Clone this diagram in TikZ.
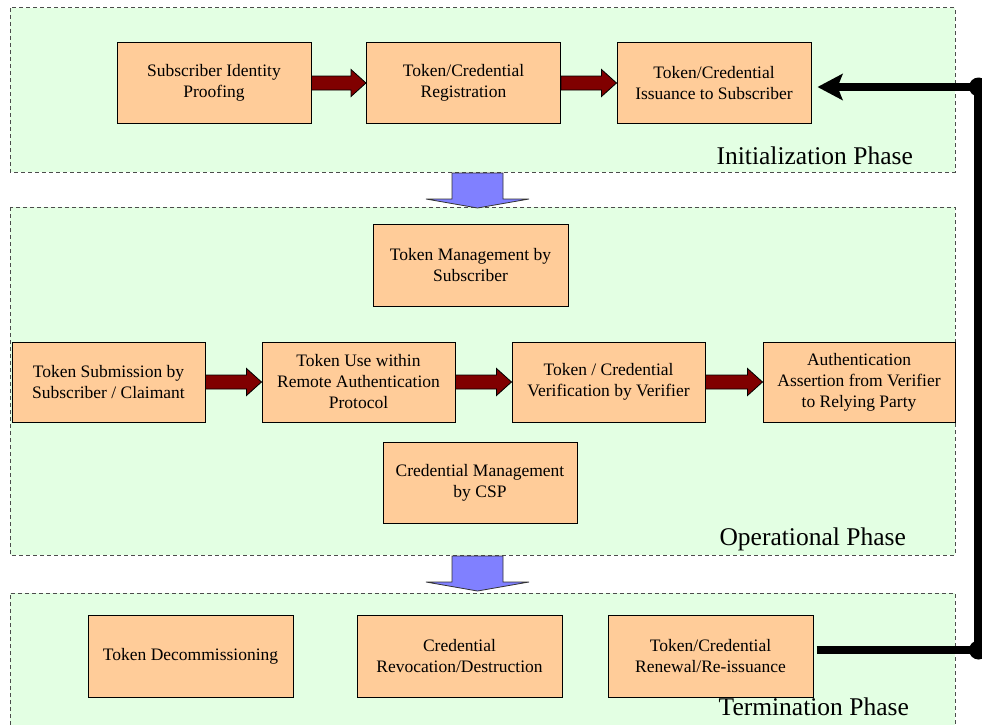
\documentclass[tikz,border=0pt]{standalone}
\usepackage{fontspec}
\setmainfont{Liberation Serif}
\usetikzlibrary{calc,arrows.meta}

\definecolor{boxfill}{RGB}{255,204,153}
\definecolor{phasefill}{RGB}{227,255,227}
\definecolor{redfill}{RGB}{128,0,0}
\definecolor{bluefill}{RGB}{128,128,255}

%% 粗箭头：从 #1 的右边到 #2 的左边
\newcommand{\fatarrow}[2]{%
  \filldraw[redblock] ($(#1.east)+(0,-7)$) -- ($(#2.west)+(-15,-7)$) -- ($(#2.west)+(-15,-13.5)$)
    -- (#2.west) -- ($(#2.west)+(-15,13.5)$) -- ($(#2.west)+(-15,7)$) -- ($(#1.east)+(0,7)$) -- cycle;}

%% 阶段之间向下的蓝箭头，#1 = 箭身上沿
\newcommand{\phasearrow}[1]{%
  \filldraw[blueblock] (452,#1) -- (503,#1) -- (503,{#1+26}) -- (529,{#1+26}) -- (477.5,{#1+35})
    -- (426,{#1+26}) -- (452,{#1+26}) -- cycle;}

\begin{document}
\begin{tikzpicture}[x=1pt, y=-1pt, line join=miter,
  box/.style={draw=black, line width=1pt, fill=boxfill, minimum width=194pt, minimum height=80pt,
    align=center, inner sep=2pt, font=\fontsize{17.5}{21}\selectfont},
  phase/.style={draw=gray!60!black, dash pattern=on 4pt off 3pt, line width=1pt, fill=phasefill},
  phaselabel/.style={anchor=base east, inner sep=0pt, font=\fontsize{25.5}{30}\selectfont},
  redblock/.style={fill=redfill, draw=black, line width=0.8pt},
  blueblock/.style={fill=bluefill, draw=black!80, line width=0.8pt},
  loopline/.style={line width=8.5pt}]

  %% ════ 阶段框 ════
  \path[phase] (10,8) rectangle (955,172);
  \path[phase] (10,207) rectangle (955,555);
  \fill[phasefill] (10,593) rectangle (955,725);
  \draw[phase, fill=none] (10,725) -- (10,593) -- (955,593) -- (955,725);

  \node[phaselabel] (initlabel) at (913,164) {Initialization Phase};
  \node[phaselabel] (operlabel) at (906,545) {Operational Phase};
  \node[phaselabel] (termlabel) at (909,715) {Termination Phase};

  %% ════ 初始化阶段 ════
  \node[box] (proof) at (214,83)   {Subscriber Identity\\Proofing};
  \node[box] (reg)   at (463.5,83) {Token/Credential\\Registration};
  \node[box] (issue) at (714,83)   {Token/Credential\\Issuance to Subscriber};

  %% ════ 运行阶段 ════
  \node[box, minimum width=195pt, minimum height=82pt] (tokmgmt) at (470.5,265) {Token Management by\\Subscriber};
  \node[box, minimum width=193pt] (submit) at (108.5,382) {Token Submission by\\Subscriber / Claimant};
  \node[box, minimum width=193pt] (use)    at (358.5,382) {Token Use within\\Remote Authentication\\Protocol};
  \node[box, minimum width=193pt] (verify) at (608.5,382) {Token / Credential\\Verification by Verifier};
  \node[box, minimum width=192pt] (assert) at (859,382)   {Authentication\\Assertion from Verifier\\to Relying Party};
  \node[box, minimum width=194pt, minimum height=81pt] (credmgmt) at (480,482.5) {Credential Management\\by CSP};

  %% ════ 终止阶段 ════
  \node[box, minimum width=205pt, minimum height=82pt] (decomm) at (190.5,656) {Token Decommissioning};
  \node[box, minimum width=205pt, minimum height=82pt] (revoke) at (459.5,656) {Credential\\Revocation/Destruction};
  \node[box, minimum width=205pt, minimum height=82pt] (renew)  at (710.5,656) {Token/Credential\\Renewal/Re-issuance};

  %% ════ 粗箭头 ════
  \fatarrow{proof}{reg}
  \fatarrow{reg}{issue}
  \fatarrow{submit}{use}
  \fatarrow{use}{verify}
  \fatarrow{verify}{assert}

  \phasearrow{173}
  \phasearrow{556}

  %% ════ 右侧回路：续期 -> 发放 ════
  \coordinate (jb) at (978.5,650);
  \coordinate (jt) at (978.5,87);
  \draw[loopline, shorten <=3pt, shorten >=6pt, -{Stealth[length=25pt, width=26pt, inset=5pt]}]
    (jb -| renew.east) -- (jb) -- (jt) -- (jt -| issue.east);
  \fill (jt) circle (9.5pt);
  \fill (jb) circle (9.5pt);

  % 固定画布大小
  \pgfresetboundingbox
  \path[use as bounding box] (0,0) rectangle (982,725);
\end{tikzpicture}
\end{document}
